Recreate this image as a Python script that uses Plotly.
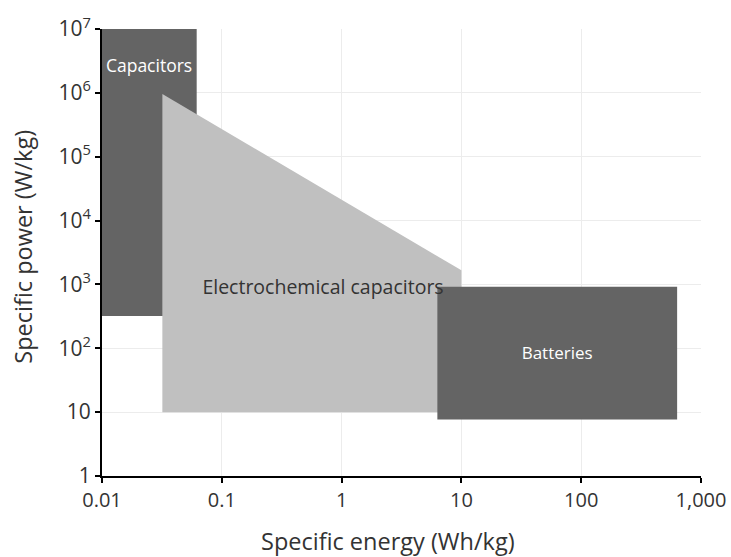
import plotly.graph_objects as go

# Regions (specific energy Wh/kg, specific power W/kg)
cap_x = [0.01, 0.0617, 0.0617, 0.01]
cap_y = [319, 319, 1e7, 1e7]
ec_x = [0.0319, 0.0319, 10, 10]
ec_y = [10, 0.96e6, 1660, 10]
bat_x = [6.3, 632, 632, 6.3]
bat_y = [7.7, 7.7, 917, 917]

labels = ["Capacitors", "Electrochemical capacitors", "Batteries"]
label_x = [0.0247, 0.70, 63]
label_y = [2.5e6, 850, 78]
label_col = ["white", "#333333", "white"]
label_size = [17.5, 19.5, 17]

x_ticks = [0.01, 0.1, 1, 10, 100, 1000]
x_ticktext = ["0.01", "0.1", "1", "10", "100", "1,000"]
y_ticks = [1, 10, 1e2, 1e3, 1e4, 1e5, 1e6, 1e7]
y_ticktext = ["1", "10", "10<sup>2</sup>", "10<sup>3</sup>", "10<sup>4</sup>",
              "10<sup>5</sup>", "10<sup>6</sup>", "10<sup>7</sup>"]

DARK = "#646464"
LIGHT = "#c0c0c0"
FONT = "Open Sans"

fig = go.Figure()
for xs, ys, col in [(cap_x, cap_y, DARK), (ec_x, ec_y, LIGHT), (bat_x, bat_y, DARK)]:
    fig.add_trace(go.Scatter(x=xs + [xs[0]], y=ys + [ys[0]], fill="toself", fillcolor=col,
                             mode="lines", line=dict(width=0, color=col),
                             hoverinfo="skip", showlegend=False))

fig.add_trace(go.Scatter(x=label_x, y=label_y, mode="text", text=labels,
                         textfont=dict(family=FONT, size=label_size, color=label_col),
                         hoverinfo="skip", showlegend=False))

fig.update_layout(
    width=731, height=557,
    margin=dict(l=102, r=30, t=29, b=81, autoexpand=False),
    plot_bgcolor="white", paper_bgcolor="white",
    font=dict(family=FONT, color="#333333"),
    annotations=[
        dict(text="Specific energy (Wh/kg)", xref="paper", yref="paper", x=0.4775, y=-0.145,
             xanchor="center", yanchor="middle", showarrow=False,
             font=dict(family=FONT, size=23.5, color="#333333")),
        dict(text="Specific power (W/kg)", xref="paper", yref="paper", x=-0.131, y=0.512,
             xanchor="center", yanchor="middle", showarrow=False, textangle=-90,
             font=dict(family=FONT, size=23.5, color="#333333")),
    ],
)
fig.update_xaxes(type="log", range=[-2, 3], tickvals=x_ticks, ticktext=x_ticktext,
                 showgrid=True, gridcolor="#ececec", gridwidth=1,
                 showline=True, linecolor="black", linewidth=2,
                 ticks="outside", ticklen=5, tickwidth=2, tickcolor="black",
                 tickfont=dict(size=20, color="#333333"), automargin=False,
                 zeroline=False)
fig.update_yaxes(type="log", range=[0, 7], tickvals=y_ticks, ticktext=y_ticktext,
                 showgrid=True, gridcolor="#ececec", gridwidth=1,
                 showline=True, linecolor="black", linewidth=2,
                 ticks="outside", ticklen=5, tickwidth=2, tickcolor="black",
                 tickfont=dict(size=21, color="#333333"), automargin=False,
                 zeroline=False)

fig.write_html("out.html", config={"displayModeBar": False},
               post_script="document.body.style.margin='0';document.body.style.overflow='hidden';")
